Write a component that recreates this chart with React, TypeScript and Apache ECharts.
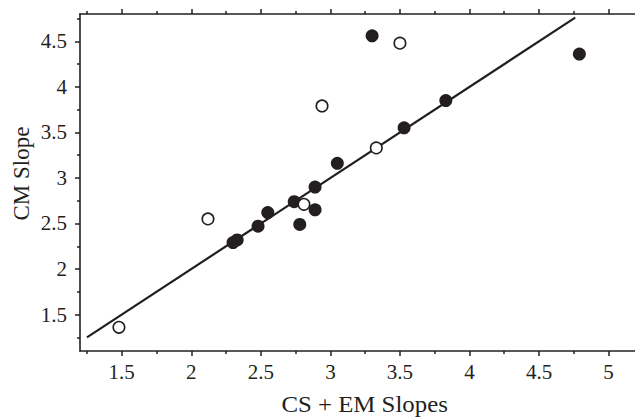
import React, { useEffect, useRef } from "react";
import * as echarts from "echarts";

const filledPoints: number[][] = [
  [2.30, 2.29], [2.33, 2.32], [2.48, 2.47], [2.55, 2.62], [2.74, 2.74],
  [2.78, 2.49], [2.89, 2.90], [2.89, 2.65], [3.05, 3.16], [3.53, 3.55],
  [3.83, 3.85], [3.30, 4.56], [4.79, 4.36],
];
const openPoints: number[][] = [
  [1.48, 1.36], [2.12, 2.55], [2.81, 2.71], [2.94, 3.79], [3.33, 3.33], [3.50, 4.48],
];
const fitLine: number[][] = [[1.25, 1.25], [4.76, 4.76]];

const xMajor = [1.5, 2, 2.5, 3, 3.5, 4, 4.5, 5];
const xMinor = [1.25, 1.75, 2.25, 2.75, 3.25, 3.75, 4.25, 4.75];
const yMajor = [1.5, 2, 2.5, 3, 3.5, 4, 4.5];
const yMinor = [1.25, 1.75, 2.25, 2.75, 3.25, 3.75, 4.25, 4.75];

const xTitle = "CS + EM Slopes";
const yTitle = "CM Slope";

const INK = "#231f20";
const FONT = "'Liberation Serif', 'Times New Roman', serif";

export default function App() {
  const ref = useRef<HTMLDivElement>(null);
  useEffect(() => {
    if (!ref.current) return;
    const chart = echarts.init(ref.current, undefined, { renderer: "svg" });
    const xBase = { type: "value", min: 1.2, max: 5.19, splitLine: { show: false } };
    const yBase = { type: "value", min: 1.1, max: 4.8, splitLine: { show: false } };
    const lineOn = { show: true, onZero: false, lineStyle: { color: INK, width: 1.6 } };
    const lineOff = { show: false, onZero: false };
    const noLabel = { show: false };
    const label = (vals: number[], margin: number) => ({
      show: true,
      customValues: vals,
      color: INK,
      fontFamily: FONT,
      fontSize: 21,
      margin,
    });
    const tick = (vals: number[], len: number) => ({
      show: true,
      customValues: vals,
      length: len,
      inside: false,
      lineStyle: { color: INK, width: 1.5 },
    });
    chart.setOption({
      animation: false,
      grid: { left: 80, top: 14, right: 0, bottom: 66, containLabel: false },
      xAxis: [
        { ...xBase, position: "bottom", axisLine: lineOn, axisTick: tick(xMajor, 5), axisLabel: label(xMajor, 10) },
        { ...xBase, position: "bottom", axisLine: lineOff, axisTick: tick(xMinor, 3), axisLabel: noLabel },
        { ...xBase, position: "top", axisLine: lineOn, axisTick: tick(xMajor, 5), axisLabel: noLabel },
        { ...xBase, position: "top", axisLine: lineOff, axisTick: tick(xMinor, 3), axisLabel: noLabel },
      ],
      yAxis: [
        { ...yBase, position: "left", axisLine: lineOn, axisTick: tick(yMajor, 5), axisLabel: label(yMajor, 13) },
        { ...yBase, position: "left", axisLine: lineOff, axisTick: tick(yMinor, 3), axisLabel: noLabel },
      ],
      graphic: [
        {
          type: "text",
          x: 364.6,
          y: 404,
          scaleX: 1.08,
          style: { text: xTitle, fill: INK, font: `23px ${FONT}`, textAlign: "center", textVerticalAlign: "middle" },
        },
        {
          type: "text",
          x: 21,
          y: 173.5,
          rotation: Math.PI / 2,
          style: { text: yTitle, fill: INK, font: `23px ${FONT}`, textAlign: "center", textVerticalAlign: "middle" },
        },
      ],
      series: [
        {
          type: "line",
          data: fitLine,
          showSymbol: false,
          symbol: "none",
          lineStyle: { color: INK, width: 2.2 },
          silent: true,
          z: 1,
        },
        {
          type: "scatter",
          data: filledPoints,
          symbol: "circle",
          symbolSize: 13,
          itemStyle: { color: INK, opacity: 1 },
          z: 2,
        },
        {
          type: "scatter",
          data: openPoints,
          symbol: "circle",
          symbolSize: 11.5,
          itemStyle: { color: "#ffffff", borderColor: INK, borderWidth: 1.6, opacity: 1 },
          z: 3,
        },
      ],
    });
    return () => chart.dispose();
  }, []);
  return (
    <div
      ref={ref}
      style={{ position: "fixed", left: 0, top: 0, width: 635, height: 417, background: "#fff" }}
    />
  );
}
